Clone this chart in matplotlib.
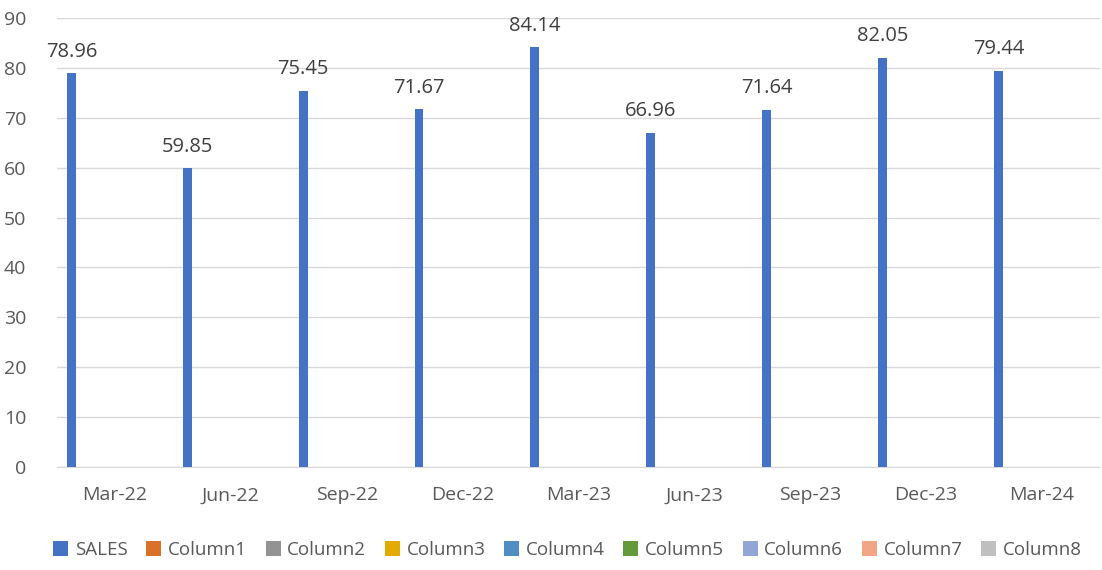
import matplotlib.pyplot as plt
from matplotlib.patches import Patch
import numpy as np

plt.rcParams['font.family'] = ['Open Sans', 'DejaVu Sans']

quarters = ['Mar-22', 'Jun-22', 'Sep-22', 'Dec-22', 'Mar-23', 'Jun-23', 'Sep-23', 'Dec-23', 'Mar-24']
sales = [78.96, 59.85, 75.45, 71.67, 84.14, 66.96, 71.64, 82.05, 79.44]
series_names = ['SALES', 'Column1', 'Column2', 'Column3', 'Column4',
                'Column5', 'Column6', 'Column7', 'Column8']
colors = ['#4472C4', '#D9712A', '#939393', '#E3AA00', '#4F8DC2',
          '#639A3A', '#91A6D6', '#F1A685', '#BFBFBF']

fig = plt.figure(figsize=(11.02, 5.70), dpi=100)
ax = fig.add_axes([57 / 1102, 1 - 467 / 570, (1100 - 57) / 1102, (467 - 18) / 570])

x = np.arange(len(quarters))
width = 0.077
first = -0.376

bars = ax.bar(x + first, sales, width, color=colors[0], zorder=3)
for b, v in zip(bars, sales):
    ax.text(b.get_x() + b.get_width() / 2, v + 2.3, f'{v:.2f}',
            ha='center', va='bottom', fontsize=14.5, color='#404040')

ax.set_xlim(-0.5, len(quarters) - 0.5)
ax.set_ylim(0, 90)
ax.set_yticks(range(0, 91, 10))
ax.set_xticks(x)
ax.set_xticklabels(quarters)
ax.tick_params(axis='both', length=0, labelsize=14, colors='#595959')
ax.tick_params(axis='x', pad=14)
ax.tick_params(axis='y', pad=22)

ax.grid(axis='y', color='#D9D9D9', linewidth=1, zorder=0)
for s in ['top', 'right', 'left']:
    ax.spines[s].set_visible(False)
ax.spines['bottom'].set_color('#D9D9D9')

handles = [Patch(facecolor=c, label=n) for c, n in zip(colors, series_names)]
fig.legend(handles=handles, loc='center', bbox_to_anchor=(0.515, 1 - 550 / 570), ncol=9,
           frameon=False, fontsize=13.5, handlelength=0.8, handleheight=0.8,
           handletextpad=0.35, columnspacing=1.0, labelcolor='#595959')

fig.savefig('out.png', dpi=100)
